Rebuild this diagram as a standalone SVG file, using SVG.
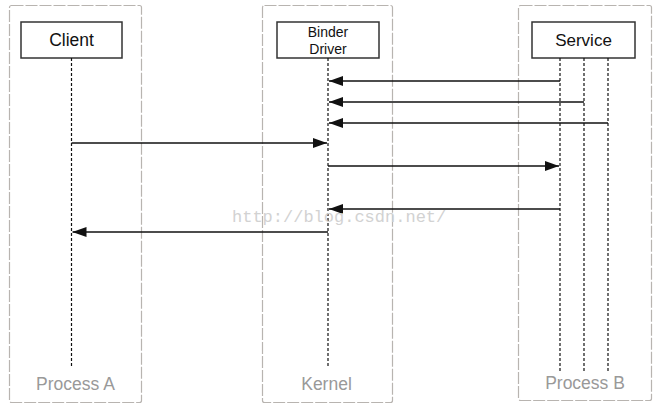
<svg xmlns="http://www.w3.org/2000/svg" width="666" height="417" viewBox="0 0 666 417">
<style>
.frame{fill:#fff;stroke:#b8b4b0;stroke-width:1.2;stroke-dasharray:12 2}
.box{fill:#fff;stroke:#333;stroke-width:1.5}
.life{stroke:#111;stroke-width:1.2;stroke-dasharray:3 2;fill:none}
.msg{stroke:#111;stroke-width:1.3;fill:none;marker-end:url(#ah)}
.lbl{font-family:"Liberation Sans",Arial,sans-serif;fill:#111;text-anchor:middle}
.plbl{font-family:"Liberation Sans",Arial,sans-serif;fill:#999;font-size:17.5px;text-anchor:middle}
</style>
<defs>
<marker id="ah" viewBox="0 0 14 10" refX="14" refY="5" markerWidth="14" markerHeight="10" markerUnits="userSpaceOnUse" orient="auto">
<path d="M0,0 L14,5 L0,10 Z" fill="#111"/>
</marker>
</defs>
<rect width="666" height="417" fill="#fff"/>
<g id="processA">
<rect class="frame" x="9.5" y="5.5" width="132" height="397" rx="2"/>
<text class="plbl" x="75.5" y="390">Process A</text>
</g>
<g id="kernel">
<rect class="frame" x="262.5" y="5.5" width="130" height="397" rx="2"/>
<text class="plbl" x="326.5" y="390">Kernel</text>
</g>
<g id="processB">
<rect class="frame" x="518.5" y="5.5" width="133" height="395" rx="2"/>
<text class="plbl" x="585" y="389">Process B</text>
</g>
<g id="client">
<rect class="box" x="21" y="22" width="101" height="36"/>
<text class="lbl" x="71.5" y="46" font-size="17.5">Client</text>
<line class="life" x1="71.5" y1="58" x2="71.5" y2="368"/>
</g>
<g id="binder">
<rect class="box" x="277" y="22" width="102" height="36"/>
<text class="lbl" x="328" y="37" font-size="14">Binder</text>
<text class="lbl" x="328" y="54" font-size="14">Driver</text>
<line class="life" x1="328" y1="58" x2="328" y2="368"/>
</g>
<g id="service">
<rect class="box" x="532" y="22" width="103" height="36"/>
<text class="lbl" x="583.5" y="46" font-size="17">Service</text>
<line class="life" x1="560" y1="58" x2="560" y2="372"/>
<line class="life" x1="584" y1="58" x2="584" y2="372"/>
<line class="life" x1="608" y1="58" x2="608" y2="372"/>
</g>
<g id="connectors">
<line class="msg" x1="560" y1="81" x2="329" y2="81"/>
<line class="msg" x1="584" y1="102" x2="329" y2="102"/>
<line class="msg" x1="608" y1="123" x2="329" y2="123"/>
<line class="msg" x1="71.5" y1="143" x2="327" y2="143"/>
<line class="msg" x1="328" y1="166" x2="559" y2="166"/>
<line class="msg" x1="560" y1="209" x2="329" y2="209"/>
<line class="msg" x1="328" y1="232" x2="72.5" y2="232"/>
</g>
<text x="232" y="222" font-family="'Liberation Mono','Courier New',monospace" font-size="17" fill="#d2d2d2">http://blog.csdn.net/</text>
</svg>
